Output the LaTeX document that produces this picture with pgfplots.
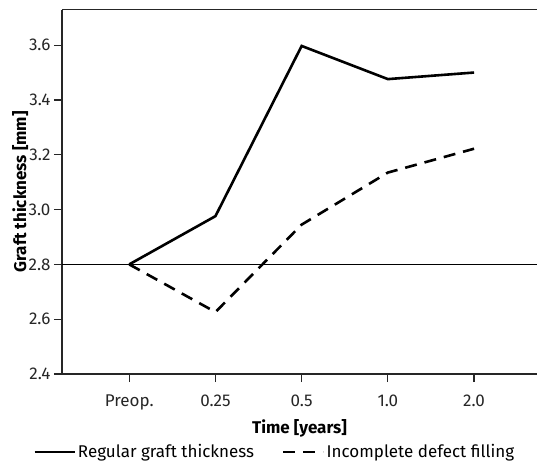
\documentclass[border=0pt]{standalone}
\usepackage{pgfplots}
\pgfplotsset{compat=1.18}
\usepackage{fontspec}
\setmainfont{Fira Sans}
\begin{document}
\begin{tikzpicture}
\begin{axis}[
  scale only axis,
  width=475pt, height=364.5pt,
  xmin=-0.78, xmax=4.73,
  ymin=2.4, ymax=3.73,
  axis x line=box, axis y line*=left,
  axis line style={line width=1.3pt, color=black!85},
  xtick={0,1,2,3,4},
  xticklabels={Preop.,0.25,0.5,1.0,2.0},
  ytick={2.4,2.6,2.8,3.0,3.2,3.4,3.6},
  yticklabel style={/pgf/number format/.cd, fixed, fixed zerofill, precision=1},
  /pgf/number format/assume math mode=true,
  tick align=outside,
  xtick pos=bottom,
  ytick pos=left,
  major tick length=8pt,
  tick style={line width=1.2pt, black!85},
  ticklabel style={font=\fontsize{17}{20}\selectfont, color=black!85},
  xticklabel style={yshift=-9pt},
  xlabel={\textbf{Time [years]}},
  ylabel={\textbf{Graft thickness [mm]}},
  label style={font=\fontsize{17}{20}\selectfont},
  xlabel style={yshift=-3pt},
  ylabel style={yshift=-6.5pt},
  legend style={draw=none, fill=none, font=\fontsize{17}{20}\selectfont, at={(0.448,-0.214)}, anchor=center, legend columns=2, /tikz/every even column/.append style={column sep=26pt}},
  legend cell align=left,
  legend image code/.code={\draw[#1] (0pt,0pt) -- (40pt,0pt);},
]
\addplot[black, line width=2.6pt, line join=miter] coordinates {(0,2.80) (1,2.976) (2,3.597) (3,3.476) (4,3.500)};
\addlegendentry{Regular graft thickness}
\addplot[black, line width=2.6pt, dash pattern=on 12pt off 8pt] coordinates {(0,2.80) (1,2.626) (2,2.945) (3,3.135) (4,3.222)};
\addlegendentry{Incomplete defect filling}
\addplot[black, line width=1.3pt, forget plot] coordinates {(-0.78,2.8) (4.73,2.8)};
\end{axis}
\pgfresetboundingbox
\path (current axis.south west) ++(-62pt,-90pt) coordinate (bl);
\path (current axis.north east) ++(0pt,9.5pt) coordinate (tr);
\path[use as bounding box] (bl) rectangle (tr);
\end{tikzpicture}
\end{document}
